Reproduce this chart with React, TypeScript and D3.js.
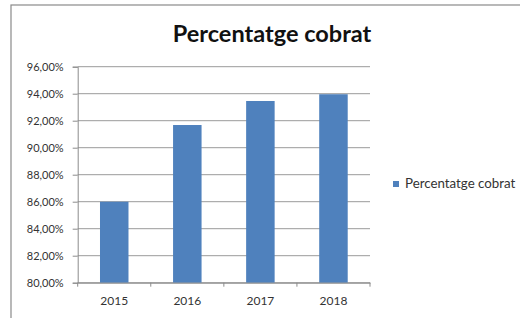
import { useEffect, useRef } from "react";
import * as d3 from "d3";

const years = ["2015", "2016", "2017", "2018"];
const cobrat = [0.86, 0.9168, 0.9346, 0.9396];
const yTicks = [0.8, 0.82, 0.84, 0.86, 0.88, 0.9, 0.92, 0.94, 0.96];
const seriesName = "Percentatge cobrat";

const width = 520;
const height = 318;
const marginTop = 66.7;
const marginBottom = 35.3;
const marginLeft = 77.7;
const marginRight = 150;

export default function App() {
    const gx = useRef<SVGGElement>(null);
    const gy = useRef<SVGGElement>(null);

    const x = d3.scaleBand(years, [marginLeft, width - marginRight]).paddingInner(0.61).paddingOuter(0.305);
    const y = d3.scaleLinear([0.8, 0.96], [height - marginBottom, marginTop]);
    const fmt = (v: number) => (v * 100).toFixed(2).replace(".", ",") + "%";

    useEffect(() => {
        const ax = d3.select(gx.current);
        ax.selectAll("*").remove();
        ax.call(d3.axisBottom(x).tickSize(0).tickPadding(14));
        ax.select(".domain").attr("stroke", "#8c8c8c");
        ax.selectAll("text").attr("font-size", 12).attr("fill", "#333").attr("font-family", "Lato, sans-serif");
        // tick marks between categories
        const step = x.step();
        const edges = d3.range(years.length + 1).map((i) => marginLeft + i * step);
        ax.selectAll("line.sep")
            .data(edges)
            .join("line")
            .attr("class", "sep")
            .attr("x1", (d) => d)
            .attr("x2", (d) => d)
            .attr("y1", 0)
            .attr("y2", 4)
            .attr("stroke", "#8c8c8c");
    }, []);

    useEffect(() => {
        const ay = d3.select(gy.current);
        ay.selectAll("*").remove();
        ay.call(d3.axisLeft(y).tickValues(yTicks).tickFormat(fmt).tickSize(5).tickPadding(9));
        ay.select(".domain").attr("stroke", "#8c8c8c");
        ay.selectAll(".tick line").attr("stroke", "#8c8c8c");
        ay.selectAll("text").attr("font-size", 11).attr("fill", "#333").attr("font-family", "Lato, sans-serif");
    }, []);

    return (
        <svg width={width} height={height} style={{ position: "absolute", left: 0, top: 0, background: "#fff" }}>
            <rect x={11} y={5} width={width - 8} height={height - 3} fill="#fff" stroke="#8a8a8a" strokeWidth={1.2} />
            <text x={272} y={42} textAnchor="middle" fontFamily="Lato, sans-serif" fontWeight="bold" fontSize={23.5} fill="#111">
                {seriesName}
            </text>
            <g>
                {yTicks.map((t) => (
                    <line key={t} x1={marginLeft} x2={width - marginRight} y1={y(t)} y2={y(t)} stroke="#9a9a9a" strokeWidth={1} />
                ))}
            </g>
            <g fill="#4f81bd">
                {cobrat.map((v, i) => (
                    <rect key={years[i]} x={x(years[i])} y={y(v)} width={x.bandwidth()} height={y(0.8) - y(v)} />
                ))}
            </g>
            <g ref={gx} transform={`translate(0,${height - marginBottom})`} />
            <g ref={gy} transform={`translate(${marginLeft},0)`} />
            <g transform="translate(393,181)">
                <rect x={0} y={0} width={6} height={6} fill="#4f81bd" />
                <text x={12} y={6.5} fontFamily="Lato, sans-serif" fontSize={13.3} fill="#333">
                    {seriesName}
                </text>
            </g>
        </svg>
    );
}
